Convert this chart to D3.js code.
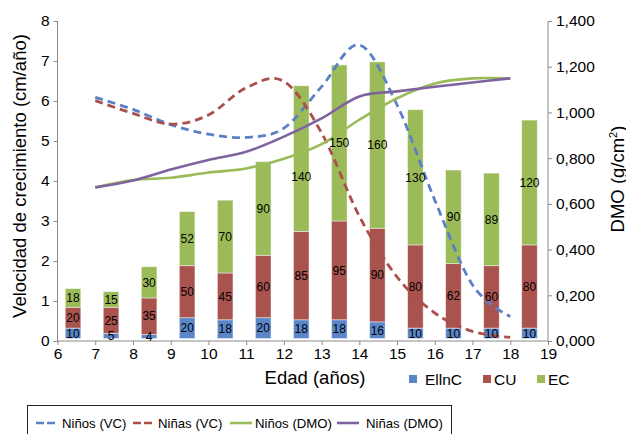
<!DOCTYPE html>
<html>
<head>
<meta charset="utf-8">
<script src="https://cdn.jsdelivr.net/npm/d3@7"></script>
<style>
  html, body { margin: 0; padding: 0; background: #fff; }
  svg { display: block; font-family: "Liberation Sans", Arial, Helvetica, sans-serif; }
</style>
</head>
<body>
<svg id="chart" width="626" height="434"></svg>
<script>
// ---------------- DATA ----------------
const barAges = [6, 7, 8, 9, 10, 11, 12, 13, 14, 15, 16, 17, 18];
const ellnC   = [10, 5, 4, 20, 18, 20, 18, 18, 16, 10, 10, 10, 10];
const cu      = [20, 25, 35, 50, 45, 60, 85, 95, 90, 80, 62, 60, 80];
const ec      = [18, 15, 30, 52, 70, 90, 140, 150, 160, 130, 90, 89, 120];

const lineAges  = [7, 8, 9, 10, 11, 12, 13, 14, 15, 16, 17, 18];
const ninosVC   = [6.09, 5.79, 5.41, 5.17, 5.09, 5.32, 6.36, 7.40, 5.90, 3.52, 1.40, 0.61];
const ninasVC   = [6.01, 5.69, 5.42, 5.65, 6.33, 6.49, 5.20, 3.12, 1.60, 0.70, 0.24, 0.09];
const ninosDMO  = [0.672, 0.704, 0.714, 0.737, 0.755, 0.797, 0.861, 0.968, 1.062, 1.127, 1.149, 1.149];
const ninasDMO  = [0.672, 0.702, 0.750, 0.792, 0.828, 0.894, 0.974, 1.070, 1.092, 1.112, 1.131, 1.149];

const xTicks      = [6, 7, 8, 9, 10, 11, 12, 13, 14, 15, 16, 17, 18, 19];
const leftTicks   = [0, 1, 2, 3, 4, 5, 6, 7, 8];
const rightTicks  = [0, 0.2, 0.4, 0.6, 0.8, 1.0, 1.2, 1.4];

const barSeries  = ["EllnC", "CU", "EC"];
const lineSeries = ["Niños (VC)", "Niñas (VC)", "Niños (DMO)", "Niñas (DMO)"];

// ---------------- STYLE ----------------
const barColors  = { EllnC: "#5B87C9", CU: "#A9534F", EC: "#9BBB59" };
const lineColors = ["#5B80C6", "#AA4F4B", "#9BBB59", "#7F63A1"];
const axisColor = "#8A8A8A";

const svg = d3.select("#chart");

const x  = d3.scaleLinear().domain([6, 19]).range([57.5, 548]);
const yL = d3.scaleLinear().domain([0, 8]).range([341, 21]);
const yR = d3.scaleLinear().domain([0, 1.4]).range([341, 21]);
const xb = d3.scaleBand().domain(barAges).range([54, 548.5]).paddingInner(0.59).paddingOuter(0.295);
const yb = d3.scaleLinear().domain([0, 300]).range([338.5, 26.5]);

// ---------------- BARS ----------------
const rows = barAges.map((a, i) => ({ age: a, EllnC: ellnC[i], CU: cu[i], EC: ec[i] }));
const stack = d3.stack().keys(barSeries)(rows);

const gBars = svg.append("g");
stack.forEach(layer => {
  gBars.selectAll(null).data(layer).enter().append("rect")
    .attr("x", d => xb(d.data.age))
    .attr("width", xb.bandwidth())
    .attr("y", d => yb(d[1]))
    .attr("height", d => yb(d[0]) - yb(d[1]))
    .attr("fill", barColors[layer.key])
    .attr("stroke", "rgba(255,255,255,0.55)")
    .attr("stroke-width", 0.8);
});

// ---------------- AXES ----------------
const fmtR = d => d3.format(".3f")(d).replace(".", ",");

const axL = svg.append("g").attr("transform", `translate(${x(6)},0)`)
  .call(d3.axisLeft(yL).tickValues(leftTicks).tickSize(4).tickPadding(4).tickFormat(d3.format("d")));
const axR = svg.append("g").attr("transform", `translate(${x(19)},0)`)
  .call(d3.axisRight(yR).tickValues(rightTicks).tickSize(4).tickPadding(4).tickFormat(fmtR));
const axX = svg.append("g").attr("transform", `translate(0,${yL(0)})`)
  .call(d3.axisBottom(x).tickValues(xTicks).tickSize(4).tickPadding(3).tickFormat(d3.format("d")));

[axL, axR, axX].forEach(a => {
  a.select(".domain").attr("stroke", axisColor).attr("stroke-width", 1);
  a.selectAll(".tick line").attr("stroke", axisColor);
  a.selectAll(".tick text").attr("fill", "#000").attr("font-size", "15.5px")
    .attr("font-family", "'Liberation Sans', Arial, sans-serif");
});
axL.select(".domain").attr("d", `M0,${yL(8)}V${yL(0)}`);
axR.select(".domain").attr("d", `M0,${yR(1.4)}V${yR(0)}`);
axX.select(".domain").attr("d", `M${x(6)},0H${x(19)}`);

// ---------------- LINES ----------------
const curve = d3.curveCardinal.tension(0);
const seriesDefs = [
  { vals: ninosVC,  y: yL, dash: "8,5" },
  { vals: ninasVC,  y: yL, dash: "8,5" },
  { vals: ninosDMO, y: yR, dash: null },
  { vals: ninasDMO, y: yR, dash: null }
];
const gLines = svg.append("g");
seriesDefs.forEach((s, i) => {
  const line = d3.line().x((d, j) => x(lineAges[j])).y(d => s.y(d)).curve(curve);
  gLines.append("path").datum(s.vals)
    .attr("d", line)
    .attr("fill", "none")
    .attr("stroke", lineColors[i])
    .attr("stroke-width", s.dash ? 2.8 : 2.6)
    .attr("stroke-dasharray", s.dash)
    .attr("stroke-linecap", "butt");
});
// draw order: DMO solid lines under dashed? keep Excel order (later series on top)

// ---------------- BAR LABELS ----------------
const labelNudge = { "12|EC": 18 };
const gLab = svg.append("g");
stack.forEach(layer => {
  gLab.selectAll(null).data(layer).enter().append("text")
    .attr("x", d => xb(d.data.age) + xb.bandwidth() / 2)
    .attr("y", d => (yb(d[0]) + yb(d[1])) / 2 + (labelNudge[d.data.age + "|" + layer.key] || 0))
    .attr("dy", "0.36em")
    .attr("text-anchor", "middle")
    .attr("font-size", "12px")
    .attr("fill", "#000")
    .text(d => d.data[layer.key]);
});

// ---------------- TITLES ----------------
svg.append("text")
  .attr("transform", `translate(26,176) rotate(-90)`)
  .attr("text-anchor", "middle")
  .attr("font-size", "18.5px")
  .text("Velocidad de crecimiento (cm/año)");

const rt = svg.append("text")
  .attr("transform", `translate(623.5,179) rotate(-90)`)
  .attr("text-anchor", "middle")
  .attr("font-size", "18.5px");
rt.append("tspan").text("DMO (g/cm");
rt.append("tspan").attr("font-size", "11px").attr("dy", "-7").text("2");
rt.append("tspan").attr("dy", "7").text(")");

svg.append("text")
  .attr("x", 315).attr("y", 384)
  .attr("text-anchor", "middle")
  .attr("font-size", "18.5px")
  .text("Edad (años)");

// ---------------- BAR LEGEND ----------------
const legBarX = [409, 483, 537];
barSeries.forEach((k, i) => {
  svg.append("rect").attr("x", legBarX[i]).attr("y", 375).attr("width", 8).attr("height", 8)
    .attr("fill", barColors[k]);
  svg.append("text").attr("x", legBarX[i] + (i === 0 ? 16 : 11)).attr("y", 384.5)
    .attr("font-size", "15.5px").text(k);
});

// ---------------- LINE LEGEND ----------------
svg.append("rect").attr("x", 27.5).attr("y", 405.5).attr("width", 424).attr("height", 40)
  .attr("fill", "none").attr("stroke", "#222").attr("stroke-width", 1);
const legLineX = [36, 133, 230, 337];
const legTextX = [62, 158, 255, 366];
lineSeries.forEach((name, i) => {
  svg.append("line").attr("x1", legLineX[i]).attr("x2", legLineX[i] + 22)
    .attr("y1", 423).attr("y2", 423)
    .attr("stroke", lineColors[i]).attr("stroke-width", 2.6)
    .attr("stroke-dasharray", i < 2 ? "8,3" : null);
  svg.append("text").attr("x", legTextX[i]).attr("y", 427.5)
    .attr("font-size", "13.2px").text(name);
});
</script>
</body>
</html>
